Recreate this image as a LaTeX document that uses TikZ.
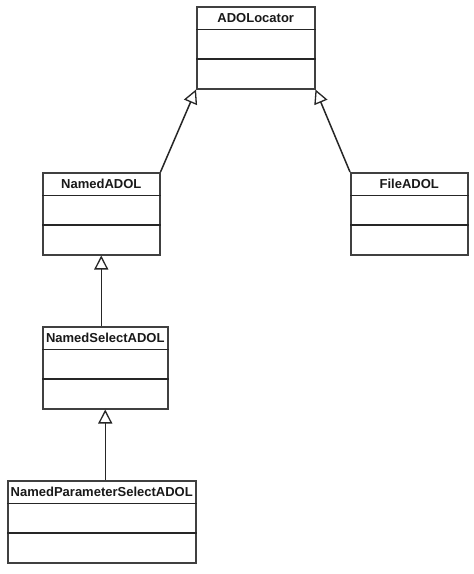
\documentclass[tikz,border=0pt]{standalone}
\usepackage{fontspec}
\setmainfont{Liberation Sans}
\usetikzlibrary{arrows.meta,calc}
\tikzset{
  classbox/.style={draw=black!75, line width=1.5pt, fill=white, inner sep=0pt, minimum height=82pt, anchor=north west},
  classtitle/.style={font=\fontsize{13}{15}\selectfont\bfseries, inner sep=0pt, text=black!90},
  sepline/.style={draw=black!85, line width=1.5pt},
  inherit/.style={draw=black!85, line width=1.5pt, -{Triangle[open, length=14pt, width=14pt, line width=1.3pt]}}
}
\newcommand{\umlclassbox}[5]{%
  \node[classbox, minimum width=#4pt] (#1) at (#2,#3) {};
  \node[classtitle] (#1-t) at ($(#1.north)+(0,11.75)$) {#5};
  \draw[sepline] ($(#1.north west)+(0,23.5)$) -- ($(#1.north east)+(0,23.5)$);
  \draw[sepline] ($(#1.north west)+(0,53)$) -- ($(#1.north east)+(0,53)$);
}
\begin{document}
\begin{tikzpicture}[x=1pt,y=-1pt]
\useasboundingbox[fill=white] (0,0) rectangle (474,574);
\umlclassbox{loc}{196}{6}{118}{ADOLocator}
\umlclassbox{named}{42}{172}{117}{NamedADOL}
\umlclassbox{file}{350}{172}{117}{FileADOL}
\umlclassbox{nsel}{42}{326}{125}{NamedSelectADOL}
\umlclassbox{nps}{7}{480}{188}{NamedParameterSelectADOL}
\draw[inherit] (named.north east) -- (loc.south west);
\draw[inherit] (file.north west) -- (loc.south east);
\draw[inherit] (named.south |- nsel.north) -- (named.south);
\draw[inherit] (nsel.south |- nps.north) -- (nsel.south);
\end{tikzpicture}
\end{document}
